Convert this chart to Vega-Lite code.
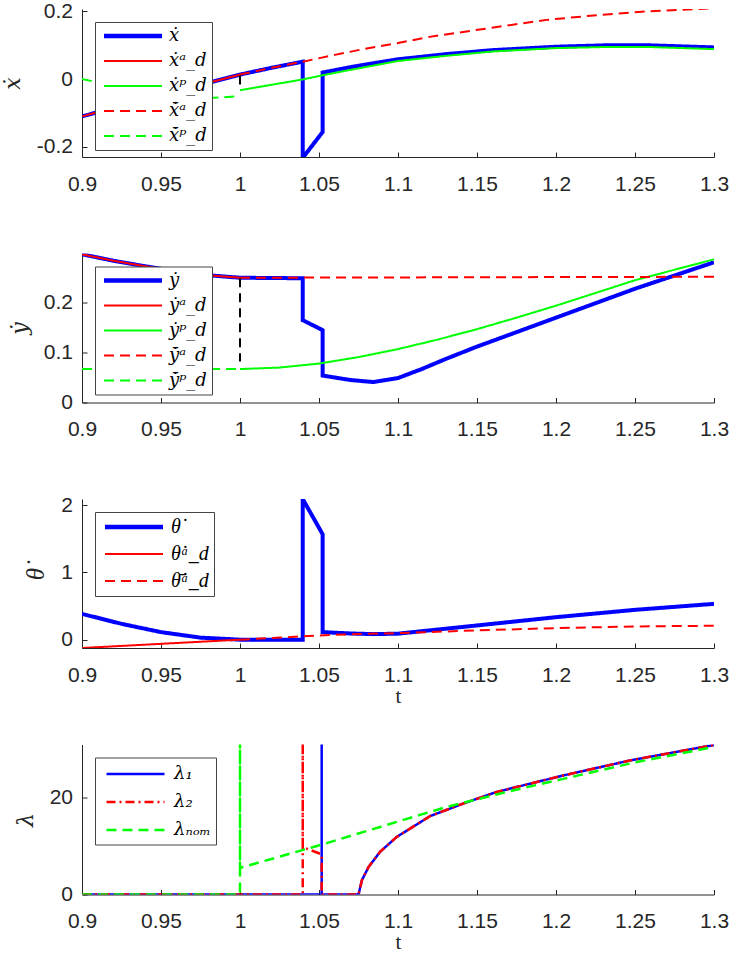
{
  "$schema": "https://vega.github.io/schema/vega-lite/v6.json",
  "padding": {"left": 1, "top": 0, "right": 0, "bottom": 0},
  "bounds": "flush",
  "spacing": 96.5,
  "resolve": {
    "scale": {"x": "independent", "y": "independent", "color": "independent", "strokeDash": "independent"},
    "legend": {"color": "independent", "strokeDash": "independent"}
  },
  "config": {
    "view": {"stroke": null},
    "font": "Liberation Sans",
    "axis": {
      "domainColor": "#262626", "domainWidth": 1, "tickColor": "#262626", "tickWidth": 1, "tickSize": -5,
      "labelColor": "#262626", "labelFont": "Liberation Sans", "labelFontSize": 21,
      "grid": false, "labelFlush": false, "labelOverlap": false, "labelBound": false, "minExtent": 0,
      "titleColor": "#262626", "titleFontWeight": "normal"
    },
    "axisX": {"labelPadding": 21, "titleFont": "Liberation Serif", "titleFontSize": 21, "titlePadding": 0},
    "axisY": {"labelPadding": 14.5, "titleFont": "DejaVu Serif", "titleFontStyle": "italic", "titleFontSize": 22, "titlePadding": 12},
    "legend": {
      "orient": "top-left", "offset": 13, "padding": 5, "rowPadding": 7,
      "strokeColor": "#444444", "fillColor": "white", "cornerRadius": 0,
      "labelFont": "DejaVu Serif", "labelFontStyle": "italic", "labelFontSize": 18, "labelColor": "black",
      "labelOffset": 27, "symbolOffset": 24, "symbolSize": 400
    }
  },
  "datasets": {
    "p1": [
      {"s": "\u1e8b", "t": 0.9, "v": -0.110}, {"s": "\u1e8b", "t": 0.92, "v": -0.085}, {"s": "\u1e8b", "t": 0.94, "v": -0.061},
      {"s": "\u1e8b", "t": 0.96, "v": -0.036}, {"s": "\u1e8b", "t": 0.98, "v": -0.011}, {"s": "\u1e8b", "t": 1.0, "v": 0.013},
      {"s": "\u1e8b", "t": 1.02, "v": 0.033}, {"s": "\u1e8b", "t": 1.0397, "v": 0.051}, {"s": "\u1e8b", "t": 1.0397, "v": -0.232},
      {"s": "\u1e8b", "t": 1.0523, "v": -0.156}, {"s": "\u1e8b", "t": 1.0523, "v": 0.019}, {"s": "\u1e8b", "t": 1.07, "v": 0.035},
      {"s": "\u1e8b", "t": 1.08, "v": 0.043}, {"s": "\u1e8b", "t": 1.1, "v": 0.058}, {"s": "\u1e8b", "t": 1.13, "v": 0.073},
      {"s": "\u1e8b", "t": 1.16, "v": 0.085}, {"s": "\u1e8b", "t": 1.2, "v": 0.095}, {"s": "\u1e8b", "t": 1.23, "v": 0.099},
      {"s": "\u1e8b", "t": 1.26, "v": 0.099}, {"s": "\u1e8b", "t": 1.3, "v": 0.093},
      {"s": "\u1e8b\u1d43_d", "t": 0.9, "v": -0.110}, {"s": "\u1e8b\u1d43_d", "t": 0.92, "v": -0.085}, {"s": "\u1e8b\u1d43_d", "t": 0.94, "v": -0.061},
      {"s": "\u1e8b\u1d43_d", "t": 0.96, "v": -0.036}, {"s": "\u1e8b\u1d43_d", "t": 0.98, "v": -0.011}, {"s": "\u1e8b\u1d43_d", "t": 1.0, "v": 0.013},
      {"s": "\u1e8b\u1d56_d", "t": 1.0, "v": -0.033}, {"s": "\u1e8b\u1d56_d", "t": 1.02, "v": -0.017}, {"s": "\u1e8b\u1d56_d", "t": 1.04, "v": -0.001},
      {"s": "\u1e8b\u1d56_d", "t": 1.0523, "v": 0.011}, {"s": "\u1e8b\u1d56_d", "t": 1.07, "v": 0.027}, {"s": "\u1e8b\u1d56_d", "t": 1.1, "v": 0.053},
      {"s": "\u1e8b\u1d56_d", "t": 1.13, "v": 0.068}, {"s": "\u1e8b\u1d56_d", "t": 1.16, "v": 0.081}, {"s": "\u1e8b\u1d56_d", "t": 1.2, "v": 0.091},
      {"s": "\u1e8b\u1d56_d", "t": 1.23, "v": 0.094}, {"s": "\u1e8b\u1d56_d", "t": 1.26, "v": 0.094}, {"s": "\u1e8b\u1d56_d", "t": 1.3, "v": 0.088},
      {"s": "x\u0304\u0307\u1d43_d", "t": 1.0, "v": 0.013}, {"s": "x\u0304\u0307\u1d43_d", "t": 1.02, "v": 0.033}, {"s": "x\u0304\u0307\u1d43_d", "t": 1.0397, "v": 0.051},
      {"s": "x\u0304\u0307\u1d43_d", "t": 1.06, "v": 0.071}, {"s": "x\u0304\u0307\u1d43_d", "t": 1.078, "v": 0.088}, {"s": "x\u0304\u0307\u1d43_d", "t": 1.1, "v": 0.106},
      {"s": "x\u0304\u0307\u1d43_d", "t": 1.12, "v": 0.124}, {"s": "x\u0304\u0307\u1d43_d", "t": 1.1625, "v": 0.153}, {"s": "x\u0304\u0307\u1d43_d", "t": 1.194, "v": 0.174},
      {"s": "x\u0304\u0307\u1d43_d", "t": 1.226, "v": 0.188}, {"s": "x\u0304\u0307\u1d43_d", "t": 1.257, "v": 0.199}, {"s": "x\u0304\u0307\u1d43_d", "t": 1.3, "v": 0.208},
      {"s": "x\u0304\u0307\u1d56_d", "t": 0.9, "v": 0.0}, {"s": "x\u0304\u0307\u1d56_d", "t": 0.91, "v": -0.010}, {"s": "x\u0304\u0307\u1d56_d", "t": 0.925, "v": -0.025},
      {"s": "x\u0304\u0307\u1d56_d", "t": 0.94, "v": -0.038}, {"s": "x\u0304\u0307\u1d56_d", "t": 0.955, "v": -0.048}, {"s": "x\u0304\u0307\u1d56_d", "t": 0.97, "v": -0.055},
      {"s": "x\u0304\u0307\u1d56_d", "t": 0.98, "v": -0.056}, {"s": "x\u0304\u0307\u1d56_d", "t": 0.99, "v": -0.054}, {"s": "x\u0304\u0307\u1d56_d", "t": 0.9985, "v": -0.051}
    ],
    "k1": [{"t": 1.0, "lo": 0.010, "hi": -0.016}],
    "p2": [
      {"s": "\u1e8f", "t": 0.9, "v": 0.297}, {"s": "\u1e8f", "t": 0.92, "v": 0.284}, {"s": "\u1e8f", "t": 0.94, "v": 0.273},
      {"s": "\u1e8f", "t": 0.96, "v": 0.263}, {"s": "\u1e8f", "t": 0.98, "v": 0.255}, {"s": "\u1e8f", "t": 1.0, "v": 0.250},
      {"s": "\u1e8f", "t": 1.0397, "v": 0.249}, {"s": "\u1e8f", "t": 1.0397, "v": 0.165}, {"s": "\u1e8f", "t": 1.0523, "v": 0.145},
      {"s": "\u1e8f", "t": 1.0523, "v": 0.054}, {"s": "\u1e8f", "t": 1.07, "v": 0.045}, {"s": "\u1e8f", "t": 1.0844, "v": 0.041},
      {"s": "\u1e8f", "t": 1.1, "v": 0.049}, {"s": "\u1e8f", "t": 1.115, "v": 0.067}, {"s": "\u1e8f", "t": 1.13, "v": 0.087},
      {"s": "\u1e8f", "t": 1.15, "v": 0.112}, {"s": "\u1e8f", "t": 1.175, "v": 0.141}, {"s": "\u1e8f", "t": 1.2, "v": 0.170},
      {"s": "\u1e8f", "t": 1.25, "v": 0.228}, {"s": "\u1e8f", "t": 1.3, "v": 0.281},
      {"s": "\u1e8f\u1d43_d", "t": 0.9, "v": 0.297}, {"s": "\u1e8f\u1d43_d", "t": 0.92, "v": 0.284}, {"s": "\u1e8f\u1d43_d", "t": 0.94, "v": 0.273},
      {"s": "\u1e8f\u1d43_d", "t": 0.96, "v": 0.263}, {"s": "\u1e8f\u1d43_d", "t": 0.98, "v": 0.255}, {"s": "\u1e8f\u1d43_d", "t": 1.0, "v": 0.250},
      {"s": "\u1e8f\u1d56_d", "t": 1.0, "v": 0.067}, {"s": "\u1e8f\u1d56_d", "t": 1.025, "v": 0.070}, {"s": "\u1e8f\u1d56_d", "t": 1.05, "v": 0.078},
      {"s": "\u1e8f\u1d56_d", "t": 1.075, "v": 0.091}, {"s": "\u1e8f\u1d56_d", "t": 1.1, "v": 0.107}, {"s": "\u1e8f\u1d56_d", "t": 1.125, "v": 0.126},
      {"s": "\u1e8f\u1d56_d", "t": 1.15, "v": 0.147}, {"s": "\u1e8f\u1d56_d", "t": 1.175, "v": 0.170}, {"s": "\u1e8f\u1d56_d", "t": 1.2, "v": 0.194},
      {"s": "\u1e8f\u1d56_d", "t": 1.25, "v": 0.245}, {"s": "\u1e8f\u1d56_d", "t": 1.3, "v": 0.287},
      {"s": "y\u0304\u0307\u1d43_d", "t": 1.0, "v": 0.250}, {"s": "y\u0304\u0307\u1d43_d", "t": 1.3, "v": 0.252},
      {"s": "y\u0304\u0307\u1d56_d", "t": 0.9, "v": 0.067}, {"s": "y\u0304\u0307\u1d56_d", "t": 1.0, "v": 0.067}
    ],
    "k2": [{"t": 1.0, "lo": 0.249, "hi": 0.082}],
    "p3": [
      {"s": "\u03b8\u0307", "t": 0.9, "v": 0.383}, {"s": "\u03b8\u0307", "t": 0.925, "v": 0.235}, {"s": "\u03b8\u0307", "t": 0.95, "v": 0.112},
      {"s": "\u03b8\u0307", "t": 0.975, "v": 0.030}, {"s": "\u03b8\u0307", "t": 1.0, "v": 0.0}, {"s": "\u03b8\u0307", "t": 1.0397, "v": 0.0},
      {"s": "\u03b8\u0307", "t": 1.0397, "v": 2.09}, {"s": "\u03b8\u0307", "t": 1.0523, "v": 1.566}, {"s": "\u03b8\u0307", "t": 1.0523, "v": 0.112},
      {"s": "\u03b8\u0307", "t": 1.07, "v": 0.092}, {"s": "\u03b8\u0307", "t": 1.0844, "v": 0.082}, {"s": "\u03b8\u0307", "t": 1.1, "v": 0.089},
      {"s": "\u03b8\u0307", "t": 1.15, "v": 0.211}, {"s": "\u03b8\u0307", "t": 1.2, "v": 0.334}, {"s": "\u03b8\u0307", "t": 1.25, "v": 0.443},
      {"s": "\u03b8\u0307", "t": 1.3, "v": 0.532},
      {"s": "\u03b8\u0307\u1d43_d", "t": 0.9, "v": -0.124}, {"s": "\u03b8\u0307\u1d43_d", "t": 1.0, "v": 0.0},
      {"s": "\u03b8\u0304\u0307\u1d43_d", "t": 1.0, "v": 0.0}, {"s": "\u03b8\u0304\u0307\u1d43_d", "t": 1.0397, "v": 0.049}, {"s": "\u03b8\u0304\u0307\u1d43_d", "t": 1.05, "v": 0.062},
      {"s": "\u03b8\u0304\u0307\u1d43_d", "t": 1.075, "v": 0.084}, {"s": "\u03b8\u0304\u0307\u1d43_d", "t": 1.1, "v": 0.098}, {"s": "\u03b8\u0304\u0307\u1d43_d", "t": 1.15, "v": 0.137},
      {"s": "\u03b8\u0304\u0307\u1d43_d", "t": 1.2, "v": 0.172}, {"s": "\u03b8\u0304\u0307\u1d43_d", "t": 1.25, "v": 0.196}, {"s": "\u03b8\u0304\u0307\u1d43_d", "t": 1.3, "v": 0.207}
    ],
    "p4": [
      {"s": "\u03bb\u2081", "t": 0.9, "v": 0}, {"s": "\u03bb\u2081", "t": 1.0517, "v": 0}, {"s": "\u03bb\u2081", "t": 1.0517, "v": 40},
      {"s": "\u03bb\u2081", "t": 1.0517, "v": 0}, {"s": "\u03bb\u2081", "t": 1.075, "v": 0}, {"s": "\u03bb\u2081", "t": 1.0772, "v": 3.0},
      {"s": "\u03bb\u2081", "t": 1.0814, "v": 5.7}, {"s": "\u03bb\u2081", "t": 1.0886, "v": 8.8}, {"s": "\u03bb\u2081", "t": 1.0992, "v": 11.9},
      {"s": "\u03bb\u2081", "t": 1.1203, "v": 16.2}, {"s": "\u03bb\u2081", "t": 1.1413, "v": 18.8}, {"s": "\u03bb\u2081", "t": 1.1625, "v": 21.2},
      {"s": "\u03bb\u2081", "t": 1.2046, "v": 24.6}, {"s": "\u03bb\u2081", "t": 1.2468, "v": 27.7}, {"s": "\u03bb\u2081", "t": 1.3, "v": 30.9},
      {"s": "\u03bb\u2082", "t": 0.9, "v": 0}, {"s": "\u03bb\u2082", "t": 1.0397, "v": 0}, {"s": "\u03bb\u2082", "t": 1.0397, "v": 40},
      {"s": "\u03bb\u2082", "t": 1.0397, "v": 9.8}, {"s": "\u03bb\u2082", "t": 1.0517, "v": 8.3}, {"s": "\u03bb\u2082", "t": 1.0517, "v": 0},
      {"s": "\u03bb\u2082", "t": 1.075, "v": 0}, {"s": "\u03bb\u2082", "t": 1.0772, "v": 3.0}, {"s": "\u03bb\u2082", "t": 1.0814, "v": 5.7},
      {"s": "\u03bb\u2082", "t": 1.0886, "v": 8.8}, {"s": "\u03bb\u2082", "t": 1.0992, "v": 11.9}, {"s": "\u03bb\u2082", "t": 1.1203, "v": 16.2},
      {"s": "\u03bb\u2082", "t": 1.1413, "v": 18.8}, {"s": "\u03bb\u2082", "t": 1.1625, "v": 21.2}, {"s": "\u03bb\u2082", "t": 1.2046, "v": 24.6},
      {"s": "\u03bb\u2082", "t": 1.2468, "v": 27.7}, {"s": "\u03bb\u2082", "t": 1.3, "v": 30.9},
      {"s": "\u03bb\u2099\u2092\u2098", "t": 0.9, "v": 0}, {"s": "\u03bb\u2099\u2092\u2098", "t": 1.0, "v": 0}, {"s": "\u03bb\u2099\u2092\u2098", "t": 1.0, "v": 40},
      {"s": "\u03bb\u2099\u2092\u2098", "t": 1.0, "v": 5.5}, {"s": "\u03bb\u2099\u2092\u2098", "t": 1.0517, "v": 10.3}, {"s": "\u03bb\u2099\u2092\u2098", "t": 1.09, "v": 14.1},
      {"s": "\u03bb\u2099\u2092\u2098", "t": 1.1308, "v": 18.1}, {"s": "\u03bb\u2099\u2092\u2098", "t": 1.17, "v": 21.3}, {"s": "\u03bb\u2099\u2092\u2098", "t": 1.2046, "v": 23.9},
      {"s": "\u03bb\u2099\u2092\u2098", "t": 1.25, "v": 27.3}, {"s": "\u03bb\u2099\u2092\u2098", "t": 1.3, "v": 30.5}
    ]
  },
  "vconcat": [
    {
      "width": 632, "height": 148,
      "layer": [
        {
          "data": {"name": "p1"},
          "mark": {"type": "line", "clip": true},
          "encoding": {
            "x": {"field": "t", "type": "quantitative", "scale": {"domain": [0.9, 1.3], "nice": false, "zero": false},
                  "axis": {"values": [0.9, 0.95, 1, 1.05, 1.1, 1.15, 1.2, 1.25, 1.3], "labelExpr": "'' + datum.value", "title": null}},
            "y": {"field": "v", "type": "quantitative", "scale": {"domain": [-0.2295, 0.206], "nice": false, "zero": false},
                  "axis": {"values": [-0.2, 0, 0.2], "labelExpr": "'' + datum.value", "title": "\u1e8b"}},
            "color": {"field": "s", "type": "nominal",
                      "scale": {"domain": ["\u1e8b", "\u1e8b\u1d43_d", "\u1e8b\u1d56_d", "x\u0304\u0307\u1d43_d", "x\u0304\u0307\u1d56_d"],
                                "range": ["#0000ff", "#ff0000", "#00ff00", "#ff0000", "#00ff00"]},
                      "legend": {"title": null, "symbolType": "M-2.9,0H2.9", "symbolStrokeWidth": 2.5,
                                 "encode": {"symbols": {"update": {"strokeWidth": {"signal": "datum.value === '\u1e8b' ? 4.5 : 2"}}}}}},
            "strokeDash": {"field": "s", "type": "nominal",
                           "scale": {"domain": ["\u1e8b", "\u1e8b\u1d43_d", "\u1e8b\u1d56_d", "x\u0304\u0307\u1d43_d", "x\u0304\u0307\u1d56_d"],
                                     "range": [[1, 0], [1, 0], [1, 0], [10, 6], [10, 6]]}},
            "strokeWidth": {"condition": {"test": "datum.s === '\u1e8b'", "value": 4}, "value": 2}
          }
        },
        {
          "data": {"name": "k1"},
          "mark": {"type": "rule", "color": "black", "strokeWidth": 2},
          "encoding": {
            "x": {"field": "t", "type": "quantitative", "scale": {"domain": [0.9, 1.3], "nice": false, "zero": false}},
            "y": {"field": "lo", "type": "quantitative", "scale": {"domain": [-0.2295, 0.206], "nice": false, "zero": false}},
            "y2": {"field": "hi"}
          }
        }
      ]
    },
    {
      "width": 632, "height": 149,
      "layer": [
        {
          "data": {"name": "p2"},
          "mark": {"type": "line", "clip": true},
          "encoding": {
            "x": {"field": "t", "type": "quantitative", "scale": {"domain": [0.9, 1.3], "nice": false, "zero": false},
                  "axis": {"values": [0.9, 0.95, 1, 1.05, 1.1, 1.15, 1.2, 1.25, 1.3], "labelExpr": "'' + datum.value", "title": null}},
            "y": {"field": "v", "type": "quantitative", "scale": {"domain": [0, 0.2986], "nice": false, "zero": false},
                  "axis": {"values": [0, 0.1, 0.2], "labelExpr": "'' + datum.value", "title": "\u1e8f"}},
            "color": {"field": "s", "type": "nominal",
                      "scale": {"domain": ["\u1e8f", "\u1e8f\u1d43_d", "\u1e8f\u1d56_d", "y\u0304\u0307\u1d43_d", "y\u0304\u0307\u1d56_d"],
                                "range": ["#0000ff", "#ff0000", "#00ff00", "#ff0000", "#00ff00"]},
                      "legend": {"title": null, "symbolType": "M-2.9,0H2.9", "symbolStrokeWidth": 2.5,
                                 "encode": {"symbols": {"update": {"strokeWidth": {"signal": "datum.value === '\u1e8f' ? 4.5 : 2"}}}}}},
            "strokeDash": {"field": "s", "type": "nominal",
                           "scale": {"domain": ["\u1e8f", "\u1e8f\u1d43_d", "\u1e8f\u1d56_d", "y\u0304\u0307\u1d43_d", "y\u0304\u0307\u1d56_d"],
                                     "range": [[1, 0], [1, 0], [1, 0], [10, 6], [10, 6]]}},
            "strokeWidth": {"condition": {"test": "datum.s === '\u1e8f'", "value": 4}, "value": 2}
          }
        },
        {
          "data": {"name": "k2"},
          "mark": {"type": "rule", "color": "black", "strokeWidth": 2, "strokeDash": [9, 6]},
          "encoding": {
            "x": {"field": "t", "type": "quantitative", "scale": {"domain": [0.9, 1.3], "nice": false, "zero": false}},
            "y": {"field": "lo", "type": "quantitative", "scale": {"domain": [0, 0.2986], "nice": false, "zero": false}},
            "y2": {"field": "hi"}
          }
        }
      ]
    },
    {
      "width": 632, "height": 149,
      "data": {"name": "p3"},
      "mark": {"type": "line", "clip": true},
      "encoding": {
        "x": {"field": "t", "type": "quantitative", "scale": {"domain": [0.9, 1.3], "nice": false, "zero": false},
              "axis": {"values": [0.9, 0.95, 1, 1.05, 1.1, 1.15, 1.2, 1.25, 1.3], "labelExpr": "'' + datum.value", "title": "t"}},
        "y": {"field": "v", "type": "quantitative", "scale": {"domain": [-0.124, 2.09], "nice": false, "zero": false},
              "axis": {"values": [0, 1, 2], "labelExpr": "'' + datum.value", "title": "\u03b8\u0307",
                       "titleFont": "Liberation Serif", "titleFontSize": 25}},
        "color": {"field": "s", "type": "nominal",
                  "scale": {"domain": ["\u03b8\u0307", "\u03b8\u0307\u1d43_d", "\u03b8\u0304\u0307\u1d43_d"],
                            "range": ["#0000ff", "#ff0000", "#ff0000"]},
                  "legend": {"title": null, "symbolType": "M-2.9,0H2.9", "symbolStrokeWidth": 2.5,
                             "labelFont": "Liberation Serif", "labelFontSize": 20,
                             "encode": {"symbols": {"update": {"strokeWidth": {"signal": "datum.value === '\u03b8\u0307' ? 4.5 : 2"}}}}}},
        "strokeDash": {"field": "s", "type": "nominal",
                       "scale": {"domain": ["\u03b8\u0307", "\u03b8\u0307\u1d43_d", "\u03b8\u0304\u0307\u1d43_d"],
                                 "range": [[1, 0], [1, 0], [10, 6]]}},
        "strokeWidth": {"condition": {"test": "datum.s === '\u03b8\u0307'", "value": 4}, "value": 2}
      }
    },
    {
      "width": 632, "height": 150,
      "data": {"name": "p4"},
      "mark": {"type": "line", "clip": true, "strokeWidth": 2.5},
      "encoding": {
        "x": {"field": "t", "type": "quantitative", "scale": {"domain": [0.9, 1.3], "nice": false, "zero": false},
              "axis": {"values": [0.9, 0.95, 1, 1.05, 1.1, 1.15, 1.2, 1.25, 1.3], "labelExpr": "'' + datum.value", "title": "t"}},
        "y": {"field": "v", "type": "quantitative", "scale": {"domain": [0, 31], "nice": false, "zero": false},
              "axis": {"values": [0, 20], "labelExpr": "'' + datum.value", "title": "\u03bb"}},
        "color": {"field": "s", "type": "nominal",
                  "scale": {"domain": ["\u03bb\u2081", "\u03bb\u2082", "\u03bb\u2099\u2092\u2098"],
                            "range": ["#0000ff", "#ff0000", "#00ff00"]},
                  "legend": {"title": null, "symbolType": "M-2.9,0H2.9", "symbolStrokeWidth": 2.5}},
        "strokeDash": {"field": "s", "type": "nominal",
                       "scale": {"domain": ["\u03bb\u2081", "\u03bb\u2082", "\u03bb\u2099\u2092\u2098"],
                                 "range": [[1, 0], [9, 4, 2, 4], [10, 6]]}}
      }
    }
  ]
}
